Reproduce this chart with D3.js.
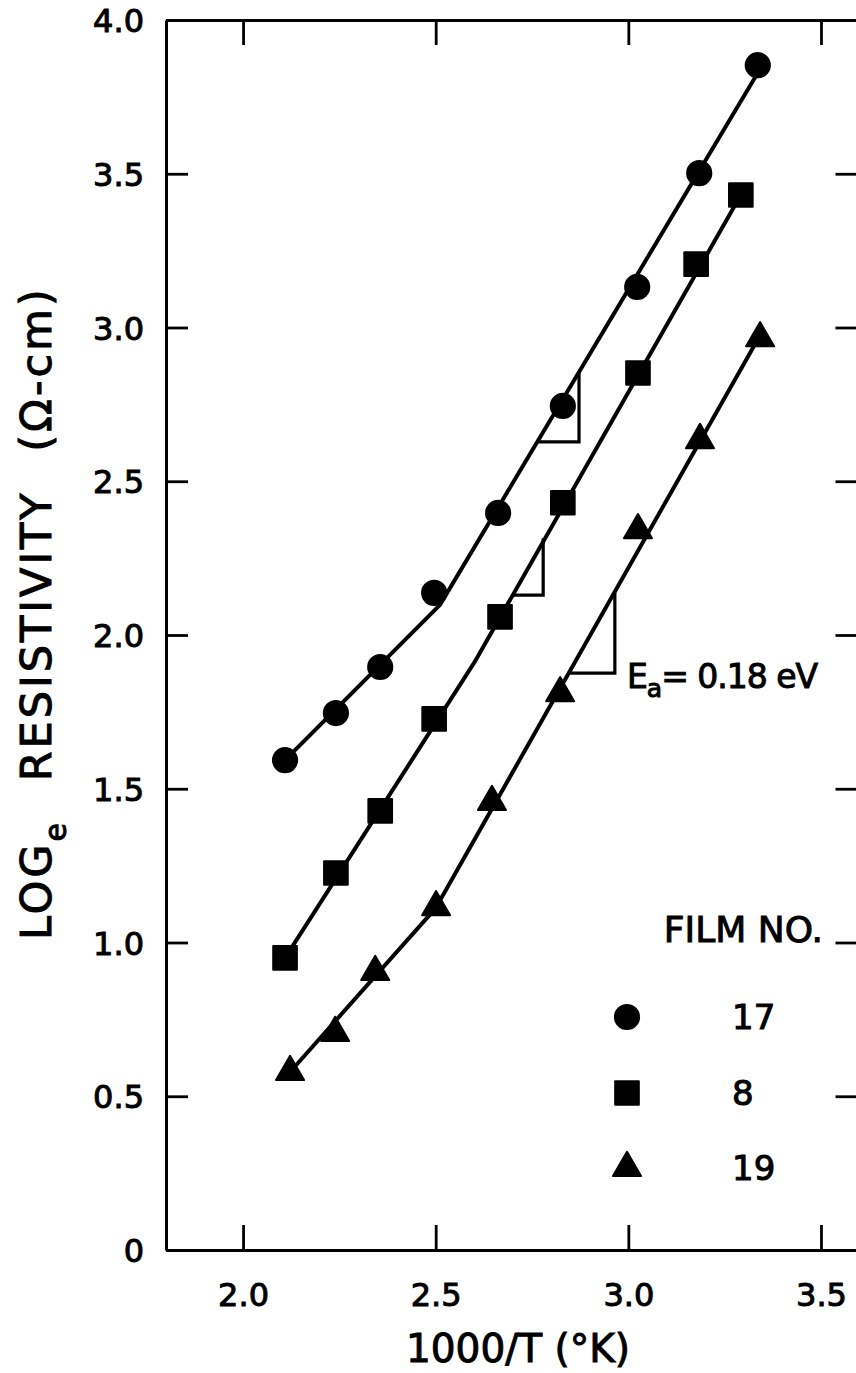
<!DOCTYPE html>
<html>
<head>
<meta charset="utf-8">
<script src="https://cdn.jsdelivr.net/npm/d3@7"></script>
<style>
  body { margin: 0; background: #fff; }
  svg { display: block; background: #fff; }
  text { font-family: "DejaVu Sans", sans-serif; fill: #000; stroke: #000; stroke-width: 1px; }
</style>
</head>
<body>
<svg width="856" height="1373"></svg>
<script>
// measured points, 1000/T vs log_e resistivity
const films = ["17", "8", "19"];
const film17X = [2.109, 2.241, 2.356, 2.496, 2.662, 2.830, 3.023, 3.184, 3.336];
const film17Y = [1.593, 1.746, 1.896, 2.137, 2.397, 2.745, 3.132, 3.502, 3.853];
const film8X  = [2.109, 2.241, 2.356, 2.496, 2.667, 2.830, 3.025, 3.176, 3.292];
const film8Y  = [0.950, 1.226, 1.428, 1.727, 2.059, 2.430, 2.852, 3.206, 3.431];
const film19X = [2.122, 2.239, 2.343, 2.501, 2.646, 2.823, 3.025, 3.186, 3.342];
const film19Y = [0.579, 0.706, 0.904, 1.115, 1.457, 1.811, 2.341, 2.634, 2.965];

// hand drawn fit lines (vertices)
const fit17 = [[2.109, 1.593], [2.511, 2.098], [3.337, 3.830]];
const fit8  = [[2.109, 0.950], [2.600, 1.910], [3.292, 3.431]];
const fit19 = [[2.122, 0.579], [2.500, 1.112], [3.342, 2.975]];

// slope triangles: [xLeft, xRight, yLow, yHigh]
const slope17 = [2.766, 2.872, 2.628, 2.855];
const slope8  = [2.698, 2.779, 2.130, 2.315];
const slope19 = [2.849, 2.965, 1.876, 2.137];

const xTicks = [2.0, 2.5, 3.0, 3.5];
const yTicks = [0, 0.5, 1.0, 1.5, 2.0, 2.5, 3.0, 3.5, 4.0];

const svg = d3.select("svg");
const plotL = 166, plotR = 859.5, plotT = 20, plotB = 1250;

const x = d3.scaleLinear().domain([1.8, 3.6]).range([plotL, plotR]);
const y = d3.scaleLinear().domain([0, 4]).range([plotB, plotT]);

const fmt = d => d === 0 ? "0" : d.toFixed(1);

function styleAxis(g) {
  g.select(".domain").attr("stroke", "#000").attr("stroke-width", 3);
  g.selectAll(".tick line").attr("stroke", "#000").attr("stroke-width", 2.8);
  g.selectAll(".tick text").style("font-size", "32px").attr("fill", "#000");
}

// frame + ticks
svg.append("g")
  .attr("transform", `translate(0,${plotB})`)
  .call(d3.axisBottom(x).tickValues(xTicks).tickFormat(fmt).tickSize(-25).tickSizeOuter(0).tickPadding(33))
  .call(styleAxis);

svg.append("g")
  .attr("transform", `translate(0,${plotT})`)
  .call(d3.axisTop(x).tickValues(xTicks).tickFormat("").tickSize(-25).tickSizeOuter(0))
  .call(styleAxis);

svg.append("g")
  .attr("transform", `translate(${plotL},0)`)
  .call(d3.axisLeft(y).tickValues(yTicks).tickFormat(fmt).tickSize(-22).tickSizeOuter(0).tickPadding(22))
  .call(styleAxis)
  .selectAll(".tick text").attr("dy", "0.36em");

svg.append("g")
  .attr("transform", `translate(${plotR},0)`)
  .call(d3.axisRight(y).tickValues(yTicks).tickFormat("").tickSize(-24).tickSizeOuter(0))
  .call(styleAxis);

// axis titles
svg.append("text")
  .attr("x", 518).attr("y", 1362)
  .attr("text-anchor", "middle")
  .style("font-size", "39px")
  .text("1000/T (°K)");

const yTitle = svg.append("text")
  .attr("transform", "translate(51,940) rotate(-90)")
  .attr("text-anchor", "start")
  .style("font-size", "43px")
  .style("letter-spacing", "3px")
  .style("word-spacing", "22px");
yTitle.append("tspan").text("LOG");
yTitle.append("tspan").attr("dy", 15).style("font-size", "30px").text("e");
yTitle.append("tspan").attr("dy", -15).text(" RESISTIVITY (Ω-cm)");

// fit lines
const line = d3.line().x(d => x(d[0])).y(d => y(d[1]));
[fit17, fit8, fit19].forEach(f => {
  svg.append("path")
    .datum(f)
    .attr("fill", "none")
    .attr("stroke", "#000")
    .attr("stroke-width", 4)
    .attr("stroke-linejoin", "round")
    .attr("d", line);
});

// slope triangles
[slope17, slope8, slope19].forEach(s => {
  svg.append("path")
    .datum([[s[0], s[2]], [s[1], s[2]], [s[1], s[3]]])
    .attr("fill", "none")
    .attr("stroke", "#000")
    .attr("stroke-width", 3.2)
    .attr("d", line);
});

// markers
const symbols = [d3.symbolCircle, d3.symbolSquare, d3.symbolTriangle];
const sizes = [460, 560, 340];
const series = [[film17X, film17Y], [film8X, film8Y], [film19X, film19Y]];

series.forEach(([xs, ys], i) => {
  svg.append("g").selectAll("path")
    .data(xs.map((v, j) => [v, ys[j]]))
    .join("path")
    .attr("transform", d => `translate(${x(d[0])},${y(d[1])})`)
    .attr("d", d3.symbol().type(symbols[i]).size(sizes[i]))
    .attr("fill", "#000")
    .attr("stroke", "#000")
    .attr("stroke-width", 2)
    .attr("stroke-linejoin", "round");
});

// activation energy label
const ea = svg.append("text")
  .attr("x", 627).attr("y", 688)
  .style("font-size", "33px")
  .style("letter-spacing", "-1px");
ea.append("tspan").text("E");
ea.append("tspan").attr("dy", 9).style("font-size", "25px").text("a");
ea.append("tspan").attr("dy", -9).text("= 0.18 eV");

// legend
svg.append("text")
  .attr("x", 823).attr("y", 942)
  .attr("text-anchor", "end")
  .style("font-size", "36px")
  .text("FILM NO.");

const legendY = [1017, 1093, 1168];
films.forEach((f, i) => {
  svg.append("path")
    .attr("transform", `translate(627,${legendY[i]})`)
    .attr("d", d3.symbol().type(symbols[i]).size(sizes[i]))
    .attr("fill", "#000")
    .attr("stroke", "#000")
    .attr("stroke-width", 2)
    .attr("stroke-linejoin", "round");
  svg.append("text")
    .attr("x", 732).attr("y", legendY[i] + 12)
    .style("font-size", "34px")
    .text(f);
});
</script>
</body>
</html>
